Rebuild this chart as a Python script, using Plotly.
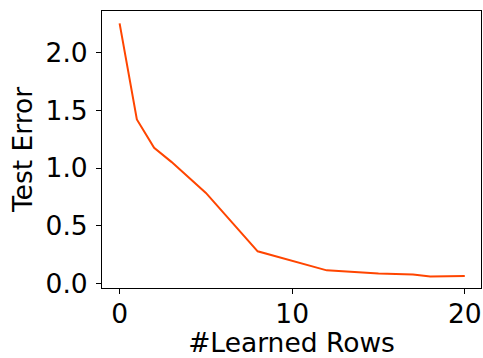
import plotly.graph_objects as go

learned_rows = [0, 1, 2, 3, 5, 8, 12, 15, 17, 18, 20]
test_error = [2.255, 1.422, 1.176, 1.055, 0.786, 0.28, 0.115, 0.087, 0.078, 0.061, 0.066]

x_ticks = [0, 10, 20]
y_ticks = [0.0, 0.5, 1.0, 1.5, 2.0]
y_tick_labels = ["0.0", "0.5", "1.0", "1.5", "2.0"]

fig = go.Figure()
fig.add_trace(go.Scatter(x=learned_rows, y=test_error, mode="lines",
                         line=dict(color="#FF4500", width=2)))

font = dict(family="DejaVu Sans", size=26.5, color="black")
fig.update_layout(
    width=483, height=358,
    margin=dict(l=102, r=2, t=11, b=70),
    paper_bgcolor="white", plot_bgcolor="white",
    showlegend=False,
    font=font,
    xaxis=dict(range=[-1.02, 20.94], tickvals=x_ticks, ticks="outside", ticklen=5,
               tickwidth=1, tickcolor="black", showline=True, linecolor="black",
               linewidth=1, mirror=True, showgrid=False, zeroline=False,
               automargin=False, ticklabelstandoff=-3,
               title=dict(text="#Learned Rows", font=font, standoff=5),
               tickfont=font),
    yaxis=dict(range=[-0.038, 2.362], tickvals=y_ticks, ticktext=y_tick_labels,
               ticks="outside", ticklen=5, tickwidth=1, tickcolor="black",
               showline=True, linecolor="black", linewidth=1, mirror=True,
               showgrid=False, zeroline=False, automargin=False,
               ticklabelstandoff=3,
               title=dict(text="Test Error", font=font, standoff=5),
               tickfont=font),
)
fig.write_html("out.html", config={"displayModeBar": False},
               post_script="document.body.style.margin='0';document.body.style.overflow='hidden';")
